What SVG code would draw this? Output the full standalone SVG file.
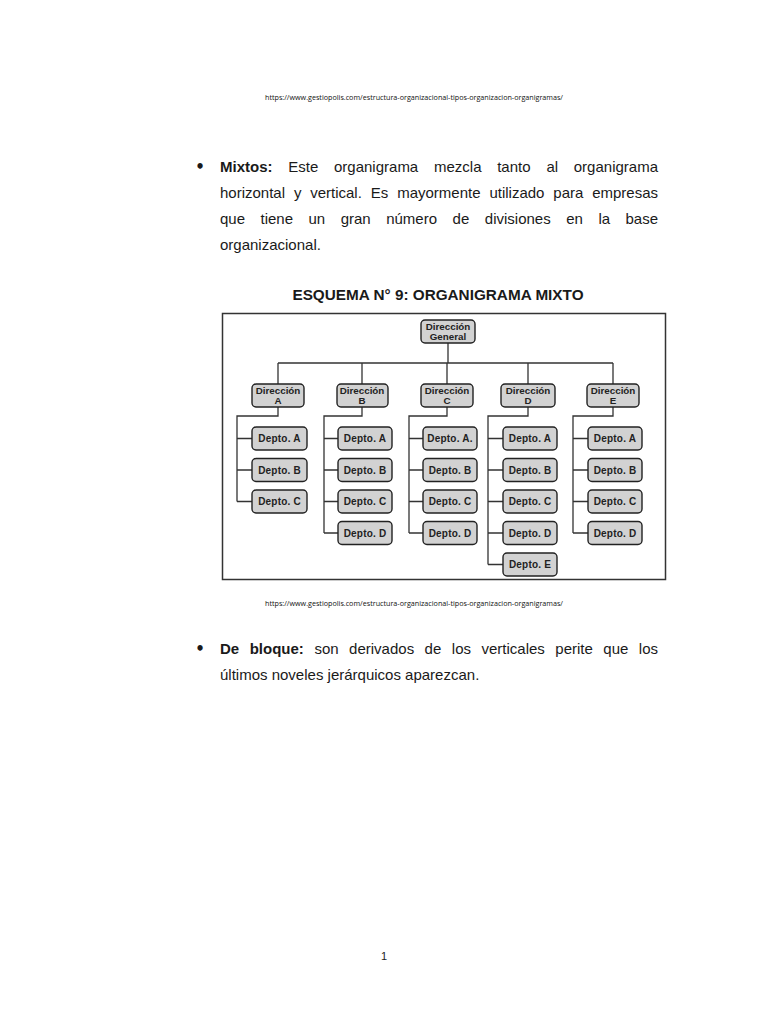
<svg xmlns="http://www.w3.org/2000/svg" width="768" height="1024" viewBox="0 0 768 1024">
<style>
.body{font-family:"Liberation Sans",Arial,sans-serif;font-size:15px;fill:#1a1a1a}
.b{font-weight:bold}
.bul{font-family:"DejaVu Sans",sans-serif;font-weight:bold;font-size:15px;fill:#1a1a1a;text-anchor:middle}
.url{font-family:"Open Sans","Liberation Sans",sans-serif;font-size:7.2px;fill:#111}
.box{fill:#d2d2d2;stroke:#222;stroke-width:1.4}
.nt{font-family:"Liberation Sans",Arial,sans-serif;font-weight:bold;font-size:9.8px;fill:#222;text-anchor:middle}
.dt{font-family:"Liberation Sans",Arial,sans-serif;font-weight:bold;font-size:10px;fill:#222;text-anchor:middle;letter-spacing:0.2px}
.ln{stroke:#333;stroke-width:1.3;fill:none}
</style>
<rect width="768" height="1024" fill="#fff"/>
<text class="url" x="265" y="100" textLength="298" lengthAdjust="spacingAndGlyphs">https://www.gestiopolis.com/estructura-organizacional-tipos-organizacion-organigramas/</text>

<g id="para1" class="body">
<text class="bul" x="200" y="172">•</text>
<text x="220" y="172" class="b">Mixtos:</text>
<text x="288.3" y="172">Este</text>
<text x="334" y="172">organigrama</text>
<text x="434" y="172">mezcla</text>
<text x="497.2" y="172">tanto</text>
<text x="546.4" y="172">al</text>
<text x="658" y="172" text-anchor="end">organigrama</text>
<text x="220" y="198">horizontal</text>
<text x="293.9" y="198">y</text>
<text x="310.2" y="198">vertical.</text>
<text x="370.8" y="198">Es</text>
<text x="397.2" y="198">mayormente</text>
<text x="489.4" y="198">utilizado</text>
<text x="553.3" y="198">para</text>
<text x="658" y="198" text-anchor="end">empresas</text>
<text x="220" y="224">que</text>
<text x="260.5" y="224">tiene</text>
<text x="308.5" y="224">un</text>
<text x="340.7" y="224">gran</text>
<text x="386.2" y="224">número</text>
<text x="452.6" y="224">de</text>
<text x="484.8" y="224">divisiones</text>
<text x="566.2" y="224">en</text>
<text x="598.4" y="224">la</text>
<text x="658" y="224" text-anchor="end">base</text>
<text x="220" y="250">organizacional.</text>
</g>

<text class="body b" x="438" y="300" text-anchor="middle" style="font-size:15.3px">ESQUEMA N° 9: ORGANIGRAMA MIXTO</text>

<rect x="222.5" y="313.5" width="443" height="266" fill="#fff" stroke="#333" stroke-width="1.5"/>

<g id="connectors" class="ln">
<path d="M448 343V363M278 363H613M278 363V384M362 363V384M447 363V384M528 363V384M613 363V384"/>
<path d="M278 407V416H237V501.5M237 438.5H252M237 470H252M237 501.5H252"/>
<path d="M362 407V416H324V533M324 438.5H338M324 470H338M324 501.5H338M324 533H338"/>
<path d="M447 407V416H409V533M409 438.5H423M409 470H423M409 501.5H423M409 533H423"/>
<path d="M528 407V416H488V564.5M488 438.5H503M488 470H503M488 501.5H503M488 533H503M488 564.5H503"/>
<path d="M613 407V416H573V533M573 438.5H588M573 470H588M573 501.5H588M573 533H588"/>
</g>

<g id="dir-general"><rect class="box" x="421" y="320" width="54" height="23" rx="4"/><text class="nt" x="448" y="330">Dirección</text><text class="nt" x="448" y="339.5">General</text></g>

<g id="dir-a"><rect class="box" x="252" y="384" width="52" height="23" rx="4"/><text class="nt" x="278" y="394">Dirección</text><text class="nt" x="278" y="403.5">A</text></g>
<g id="dir-b"><rect class="box" x="337" y="384" width="51" height="23" rx="4"/><text class="nt" x="362" y="394">Dirección</text><text class="nt" x="362" y="403.5">B</text></g>
<g id="dir-c"><rect class="box" x="421" y="384" width="52" height="23" rx="4"/><text class="nt" x="447" y="394">Dirección</text><text class="nt" x="447" y="403.5">C</text></g>
<g id="dir-d"><rect class="box" x="501" y="384" width="54" height="23" rx="4"/><text class="nt" x="528" y="394">Dirección</text><text class="nt" x="528" y="403.5">D</text></g>
<g id="dir-e"><rect class="box" x="587" y="384" width="52" height="23" rx="4"/><text class="nt" x="613" y="394">Dirección</text><text class="nt" x="613" y="403.5">E</text></g>

<g id="a-depto-a"><rect class="box" x="252" y="427" width="55" height="23" rx="4"/><text class="dt" x="279.5" y="442">Depto. A</text></g>
<g id="a-depto-b"><rect class="box" x="252" y="458.5" width="55" height="23" rx="4"/><text class="dt" x="279.5" y="473.5">Depto. B</text></g>
<g id="a-depto-c"><rect class="box" x="252" y="490" width="55" height="23" rx="4"/><text class="dt" x="279.5" y="505">Depto. C</text></g>

<g id="b-depto-a"><rect class="box" x="338" y="427" width="54" height="23" rx="4"/><text class="dt" x="365" y="442">Depto. A</text></g>
<g id="b-depto-b"><rect class="box" x="338" y="458.5" width="54" height="23" rx="4"/><text class="dt" x="365" y="473.5">Depto. B</text></g>
<g id="b-depto-c"><rect class="box" x="338" y="490" width="54" height="23" rx="4"/><text class="dt" x="365" y="505">Depto. C</text></g>
<g id="b-depto-d"><rect class="box" x="338" y="521.5" width="54" height="23" rx="4"/><text class="dt" x="365" y="536.5">Depto. D</text></g>

<g id="c-depto-a"><rect class="box" x="423" y="427" width="54" height="23" rx="4"/><text class="dt" x="450" y="442">Depto. A.</text></g>
<g id="c-depto-b"><rect class="box" x="423" y="458.5" width="54" height="23" rx="4"/><text class="dt" x="450" y="473.5">Depto. B</text></g>
<g id="c-depto-c"><rect class="box" x="423" y="490" width="54" height="23" rx="4"/><text class="dt" x="450" y="505">Depto. C</text></g>
<g id="c-depto-d"><rect class="box" x="423" y="521.5" width="54" height="23" rx="4"/><text class="dt" x="450" y="536.5">Depto. D</text></g>

<g id="d-depto-a"><rect class="box" x="503" y="427" width="54" height="23" rx="4"/><text class="dt" x="530" y="442">Depto. A</text></g>
<g id="d-depto-b"><rect class="box" x="503" y="458.5" width="54" height="23" rx="4"/><text class="dt" x="530" y="473.5">Depto. B</text></g>
<g id="d-depto-c"><rect class="box" x="503" y="490" width="54" height="23" rx="4"/><text class="dt" x="530" y="505">Depto. C</text></g>
<g id="d-depto-d"><rect class="box" x="503" y="521.5" width="54" height="23" rx="4"/><text class="dt" x="530" y="536.5">Depto. D</text></g>
<g id="d-depto-e"><rect class="box" x="503" y="553" width="54" height="23" rx="4"/><text class="dt" x="530" y="568">Depto. E</text></g>

<g id="e-depto-a"><rect class="box" x="588" y="427" width="54" height="23" rx="4"/><text class="dt" x="615" y="442">Depto. A</text></g>
<g id="e-depto-b"><rect class="box" x="588" y="458.5" width="54" height="23" rx="4"/><text class="dt" x="615" y="473.5">Depto. B</text></g>
<g id="e-depto-c"><rect class="box" x="588" y="490" width="54" height="23" rx="4"/><text class="dt" x="615" y="505">Depto. C</text></g>
<g id="e-depto-d"><rect class="box" x="588" y="521.5" width="54" height="23" rx="4"/><text class="dt" x="615" y="536.5">Depto. D</text></g>

<text class="url" x="265" y="606" textLength="298" lengthAdjust="spacingAndGlyphs">https://www.gestiopolis.com/estructura-organizacional-tipos-organizacion-organigramas/</text>

<g id="para2" class="body">
<text class="bul" x="200" y="654">•</text>
<text x="220" y="654" class="b">De</text>
<text x="249.7" y="654" class="b">bloque:</text>
<text x="314.4" y="654">son</text>
<text x="349.1" y="654">derivados</text>
<text x="424.6" y="654">de</text>
<text x="451.8" y="654">los</text>
<text x="481.5" y="654">verticales</text>
<text x="555.3" y="654">perite</text>
<text x="603.3" y="654">que</text>
<text x="658" y="654" text-anchor="end">los</text>
<text x="220" y="680">últimos noveles jerárquicos aparezcan.</text>
</g>

<text x="384" y="960" text-anchor="middle" style="font-family:'Liberation Sans',Arial,sans-serif;font-size:11px;fill:#222">1</text>
</svg>
